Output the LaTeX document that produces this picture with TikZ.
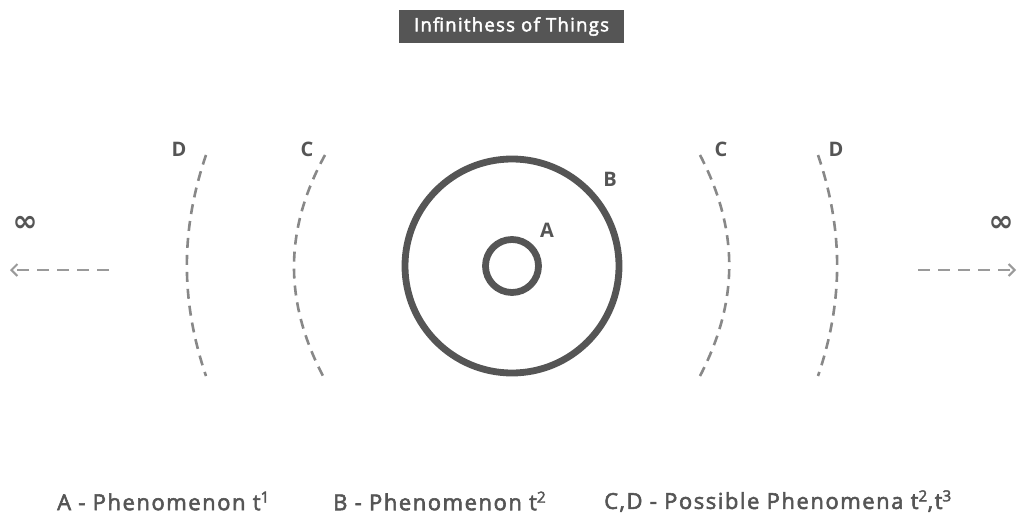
\documentclass[tikz,border=0pt]{standalone}
\usepackage{fontspec}
\setmainfont{Open Sans}[LetterSpace=8]
\newfontfamily\medfont{Open Sans}[LetterSpace=7,FakeBold=2.5]
\newfontfamily\symfont{DejaVu Sans}
\usetikzlibrary{arrows.meta}
\definecolor{dk}{HTML}{555555}
\definecolor{md}{HTML}{888888}
\definecolor{lt}{HTML}{9A9A9A}
\begin{document}
\begin{tikzpicture}[x=1pt,y=-1pt,
  ring/.style={draw=dk,line width=6.8pt},
  wave/.style={draw=md,line width=2.6pt,dash pattern=on 10pt off 7pt},
  farrow/.style={draw=lt,line width=2.4pt,dash pattern=on 12pt off 8pt,-{Straight Barb[length=6pt,width=12pt,line width=2pt]}},
  lbl/.style={text=dk,font=\fontsize{20}{22}\selectfont\bfseries,inner sep=0pt},
  legend/.style={text=dk,font=\medfont\fontsize{22}{24}\selectfont,anchor=west,inner sep=0pt},
  inf/.style={text=dk,font=\symfont\bfseries\fontsize{30}{30}\selectfont,inner sep=0pt}]
\useasboundingbox (0,0) rectangle (1017,516);
% title
\node[fill=dk,text=white,minimum width=225pt,minimum height=33pt,inner sep=0pt,font=\medfont\fontsize{18.5}{22}\selectfont] (title) at (511.5,26.5) {Infinithess of Things};
% circles
\node[ring,circle,minimum size=214pt,inner sep=0pt] (B) at (512,266) {};
\node[ring,circle,minimum size=53pt,inner sep=0pt] (A) at (512,266) {};
% arcs
\coordinate (dlt) at (206,155); \coordinate (dlb) at (206,376);
\coordinate (clt) at (325,155); \coordinate (clb) at (323,376);
\coordinate (crt) at (700,155); \coordinate (crb) at (700,376);
\coordinate (drt) at (818,155); \coordinate (drb) at (818,376);
\draw[wave] (dlt) .. controls (180.5,230) and (180.5,301) .. (dlb);
\draw[wave] (clt) .. controls (284,230) and (284,301) .. (clb);
\draw[wave] (crt) .. controls (739,230) and (739,301) .. (crb);
\draw[wave] (drt) .. controls (843.5,230) and (843.5,301) .. (drb);
% labels
\node[lbl] (lD) at (179,149) {D};
\node[lbl] (lC) at (307,149) {C};
\node[lbl] (rC) at (721,149) {C};
\node[lbl] (rD) at (836,149) {D};
\node[lbl] (lB) at (610,179) {B};
\node[lbl] (lA) at (547,230) {A};
% infinity and arrows
\node[inf] (infl) at (25,224) {∞};
\node[inf] (infr) at (1001,224) {∞};
\coordinate (al1) at (109,270); \coordinate (al2) at (10,270);
\coordinate (ar1) at (918,270); \coordinate (ar2) at (1016,270);
\draw[farrow] (al1) -- (al2);
\draw[farrow] (ar1) -- (ar2);
% legend
\node[legend] (legA) at (57,501) {A - Phenomenon t\textsuperscript{1}};
\node[legend] (legB) at (333,501) {B - Phenomenon t\textsuperscript{2}};
\node[legend] (legC) at (604,501) {C,D - Possible Phenomena t\textsuperscript{2},t\textsuperscript{3}};
\end{tikzpicture}
\end{document}
